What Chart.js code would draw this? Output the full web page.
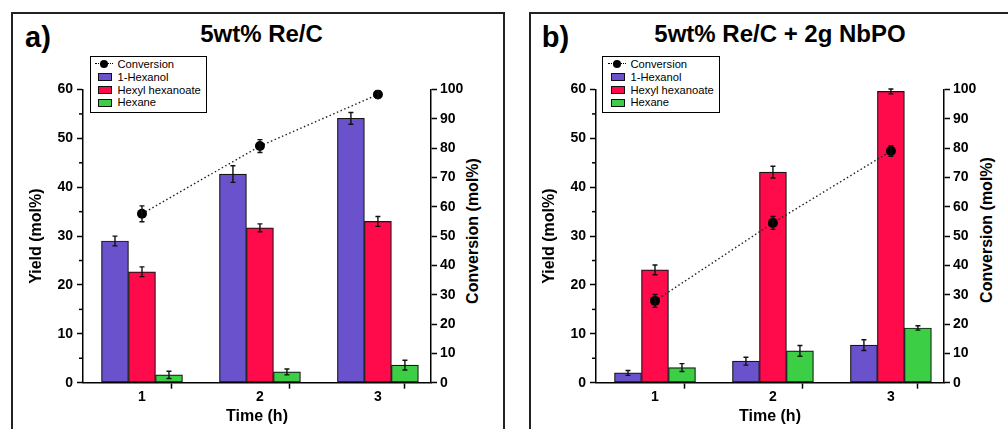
<!DOCTYPE html>
<html><head><meta charset="utf-8">
<script src="https://cdn.jsdelivr.net/npm/chart.js@4.4.1/dist/chart.umd.min.js"></script>
<style>
html,body{margin:0;padding:0;background:#fff;}
body{width:1008px;height:429px;overflow:hidden;position:relative;font-family:"Liberation Sans",Arial,sans-serif;color:#000;}
.frame{position:absolute;border:2px solid #222;box-sizing:border-box;}
canvas{position:absolute;top:0;}
.txt{position:absolute;font-weight:bold;white-space:nowrap;line-height:1;transform:translate(-50%,-50%);}
.rot{transform:translate(-50%,-50%) rotate(-90deg);}
.legend{position:absolute;border:1.5px solid #000;background:#fff;box-sizing:border-box;font-size:11.2px;line-height:1;}
.row{position:absolute;left:0;height:12px;}
.sw{position:absolute;width:14px;height:8px;border:1px solid #111;box-sizing:border-box;top:-4px;}
.lt{position:absolute;top:-5.5px;white-space:nowrap;}
.dl{position:absolute;top:-1px;width:18px;border-top:1.5px dotted #000;}
.dot{position:absolute;top:-4px;width:8px;height:8px;border-radius:50%;background:#000;}
</style></head><body>
<div class="frame" style="left:11px;top:12px;width:494px;height:440px;"></div>
<div class="frame" style="left:529px;top:12px;width:500px;height:440px;"></div>

<div class="txt" style="left:38px;top:37px;font-size:29px;">a)</div>
<div class="txt" style="left:261.5px;top:34px;font-size:24px;">5wt% Re/C</div>
<div class="txt" style="left:555.5px;top:37px;font-size:29px;">b)</div>
<div class="txt" style="left:780px;top:34px;font-size:24px;">5wt% Re/C + 2g NbPO</div>

<div class="txt rot" style="left:473px;top:230.5px;font-size:16px;">Conversion (mol%)</div>
<div class="txt rot" style="left:987px;top:230px;font-size:16px;">Conversion (mol%)</div>

<canvas id="ca" width="504" height="429" style="left:0px;"></canvas>
<canvas id="cb" width="495" height="429" style="left:513px;"></canvas>

<div id="lega" class="legend" style="left:90px;top:56px;width:117px;height:57px;"></div>
<div id="legb" class="legend" style="left:602px;top:56px;width:118px;height:57px;"></div>

<script>
// ---- data ----
const times = [1, 2, 3];
const seriesNames = ['Conversion', '1-Hexanol', 'Hexyl hexanoate', 'Hexane'];
const seriesColors = ['#000000', '#6A52CC', '#FF0A4B', '#3CCF45'];

const aConversion = [57.6, 80.7, 98.3];
const aConversionErr = [2.7, 2.2, 1.3];
const aHexanol = [29.0, 42.7, 54.1];
const aHexanolErr = [1.0, 1.7, 1.2];
const aEster = [22.7, 31.7, 33.0];
const aEsterErr = [1.0, 0.8, 1.0];
const aHexane = [1.6, 2.2, 3.6];
const aHexaneErr = [0.75, 0.6, 1.0];

const bConversion = [27.9, 54.5, 79.0];
const bConversionErr = [2.2, 2.2, 1.8];
const bHexanol = [2.0, 4.4, 7.7];
const bHexanolErr = [0.5, 0.8, 1.1];
const bEster = [23.1, 43.1, 59.6];
const bEsterErr = [1.0, 1.2, 0.5];
const bHexane = [3.1, 6.5, 11.2];
const bHexaneErr = [0.8, 1.1, 0.45];

const yTicksLeft = [0, 10, 20, 30, 40, 50, 60];
const yMinorLeft = [5, 15, 25, 35, 45, 55];
const yTicksRight = [0, 10, 20, 30, 40, 50, 60, 70, 80, 90, 100];
const xMin = 0.5, xMax = 3.45;

// ---- helpers ----
Chart.defaults.font.family = "'Liberation Sans', Arial, sans-serif";
Chart.defaults.color = '#000';

const xTickVals = [xMin].concat(times.flatMap((t, i) => i < times.length - 1 ? [t, t + 0.5] : [t]), [xMax]);
const pts = (arr) => times.map((t, i) => ({x: t, y: arr[i]}));

const errorBars = {
  id: 'errorBars',
  afterDatasetsDraw(chart) {
    const ctx = chart.ctx;
    chart.data.datasets.forEach((ds, di) => {
      if (!ds.errors) return;
      const meta = chart.getDatasetMeta(di);
      const ys = chart.scales[meta.yAxisID];
      ctx.save();
      ctx.strokeStyle = '#111';
      ctx.lineWidth = 1.4;
      meta.data.forEach((el, i) => {
        const v = ds.data[i].y, e = ds.errors[i];
        const x = el.x;
        const y1 = ys.getPixelForValue(v + e), y2 = ys.getPixelForValue(v - e);
        ctx.beginPath();
        ctx.moveTo(x, y1); ctx.lineTo(x, y2);
        ctx.moveTo(x - 2.5, y1); ctx.lineTo(x + 2.5, y1);
        ctx.moveTo(x - 2.5, y2); ctx.lineTo(x + 2.5, y2);
        ctx.stroke();
      });
      ctx.restore();
    });
  }
};

const minorTicks = {
  id: 'minorTicks',
  afterDraw(chart) {
    const s = chart.scales.y, ctx = chart.ctx;
    ctx.save();
    ctx.strokeStyle = '#000';
    ctx.lineWidth = 1.5;
    yMinorLeft.forEach(v => {
      const p = s.getPixelForValue(v);
      ctx.beginPath(); ctx.moveTo(s.right - 4, p); ctx.lineTo(s.right, p); ctx.stroke();
    });
    ctx.restore();
  }
};

const tickFont = {size: 14, weight: 'bold'};
const titleFont = {size: 16, weight: 'bold'};

function makeChart(id, conv, convErr, vals, errs, leftW, rightW) {
  const datasets = [{
    type: 'line', label: seriesNames[0], data: pts(conv), errors: convErr,
    yAxisID: 'y1', borderColor: '#222', borderWidth: 1.4, borderDash: [1.5, 2.5],
    pointRadius: 5, pointBackgroundColor: '#000', pointBorderColor: '#000', pointBorderWidth: 0,
    fill: false, tension: 0, order: 0
  }];
  vals.forEach((arr, k) => {
    datasets.push({
      type: 'bar', label: seriesNames[k + 1], data: pts(arr), errors: errs[k],
      yAxisID: 'y', backgroundColor: seriesColors[k + 1], borderColor: '#161616',
      borderWidth: 1.2, borderSkipped: false, barThickness: 27, order: 1
    });
  });
  return new Chart(document.getElementById(id), {
    type: 'bar',
    data: {datasets},
    plugins: [errorBars, minorTicks],
    options: {
      responsive: false, animation: false,
      layout: {padding: {top: 89.5, left: 0, right: 0, bottom: 0}},
      plugins: {legend: {display: false}, tooltip: {enabled: false}, title: {display: false}},
      scales: {
        x: {
          type: 'linear', min: xMin, max: xMax, offset: false,
          afterBuildTicks: (s) => { s.ticks = xTickVals.map(v => ({value: v})); },
          afterFit: (s) => { s.height = 46.3; },
          ticks: {callback: (v) => Number.isInteger(v) ? String(v) : '', font: tickFont, color: '#000',
                  padding: 0, maxRotation: 0, autoSkip: false},
          grid: {drawOnChartArea: false, tickLength: 6, tickWidth: 1.5,
                 tickColor: (c) => (c.tick && Number.isInteger(c.tick.value)) ? 'rgba(0,0,0,0)' : '#000'},
          border: {color: '#000', width: 1.5},
          title: {display: true, text: 'Time (h)', font: titleFont, color: '#000', padding: {top: 0, bottom: 2.4}}
        },
        y: {
          type: 'linear', position: 'left', min: yTicksLeft[0], max: yTicksLeft[yTicksLeft.length - 1],
          afterBuildTicks: (s) => { s.ticks = yTicksLeft.map(v => ({value: v})); },
          afterFit: (s) => { s.width = leftW; },
          ticks: {font: tickFont, color: '#000', padding: 4},
          grid: {drawOnChartArea: false, tickLength: 6, tickWidth: 1.5, tickColor: '#000'},
          border: {color: '#000', width: 1.5},
          title: {display: true, text: 'Yield (mol%)', font: titleFont, color: '#000', padding: {top: 27.4, bottom: 0}}
        },
        y1: {
          type: 'linear', position: 'right', min: yTicksRight[0], max: yTicksRight[yTicksRight.length - 1],
          afterBuildTicks: (s) => { s.ticks = yTicksRight.map(v => ({value: v})); },
          afterFit: (s) => { s.width = rightW; },
          ticks: {font: tickFont, color: '#000', padding: 3},
          grid: {drawOnChartArea: false, tickLength: 6, tickWidth: 1.5, tickColor: '#000'},
          border: {color: '#000', width: 1.5}
        }
      }
    }
  });
}

makeChart('ca', aConversion, aConversionErr, [aHexanol, aEster, aHexane], [aHexanolErr, aEsterErr, aHexaneErr], 83, 73);
makeChart('cb', bConversion, bConversionErr, [bHexanol, bEster, bHexane], [bHexanolErr, bEsterErr, bHexaneErr], 83, 64);

function buildLegend(id, swLeft) {
  const el = document.getElementById(id);
  const rowY = [7.3, 20.3, 33, 45.5];
  seriesNames.forEach((name, i) => {
    const r = document.createElement('div');
    r.className = 'row';
    r.style.top = rowY[i] + 'px';
    if (i === 0) {
      r.innerHTML = '<div class="dl" style="left:' + (swLeft - 3) + 'px"></div>' +
                    '<div class="dot" style="left:' + (swLeft + 2.5) + 'px"></div>';
    } else {
      r.innerHTML = '<div class="sw" style="left:' + swLeft + 'px;background:' + seriesColors[i] + '"></div>';
    }
    r.innerHTML += '<div class="lt" style="left:' + (swLeft + 20) + 'px">' + name + '</div>';
    el.appendChild(r);
  });
}
buildLegend('lega', 6.5);
buildLegend('legb', 7.5);
</script>
</body></html>
